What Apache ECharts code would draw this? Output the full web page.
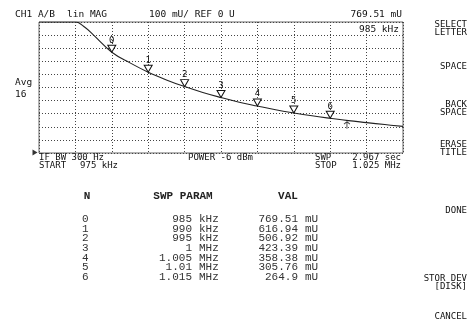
<!DOCTYPE html>
<html>
<head>
<meta charset="utf-8">
<script src="https://cdn.jsdelivr.net/npm/echarts@6/dist/echarts.min.js"></script>
<style>
  html, body { margin: 0; padding: 0; background: #fff; }
  #chart { width: 469px; height: 333px; }
</style>
</head>
<body>
<div id="chart"></div>
<script>
// sweep, kHz
const freqStart = 975
const freqStop = 1025
const freqDiv = 5
// 100 mU / div, ref 0 U at bottom
const valMin = 0
const valMax = 1000
const valDiv = 100

// trace (mU), clipped at the top of the graticule
const traceFreq = [975, 977.5, 980, 981.3, 982.5, 985, 987.5, 990, 992.5, 995, 997.5, 1000,
                   1002.5, 1005, 1007.5, 1010, 1012.5, 1015, 1017.5, 1020, 1022.5, 1025]
const traceVal = [1000, 1000, 1000, 960, 900, 769.51, 688, 616.94, 558, 506.92, 462, 423.39,
                  388, 358.38, 330, 305.76, 284, 264.9, 247, 232, 217, 203]

// marker table
const markerN = [0, 1, 2, 3, 4, 5, 6]
const markerFreq = [985, 990, 995, 1000, 1005, 1010, 1015]
const markerVal = [769.51, 616.94, 506.92, 423.39, 358.38, 305.76, 264.9]
// small arrow under the trace
const refArrow = [1017.3, 246]

const softkeys = [
    ['SELECT', 25], ['LETTER', 33], ['SPACE', 67], ['BACK', 105], ['SPACE', 112.5],
    ['ERASE', 145], ['TITLE', 152.5], ['DONE', 211], ['STOR DEV', 279], ['[DISK]', 286.5],
    ['CANCEL', 317]
]

const SCR = '"DejaVu Sans Mono", monospace'
const TAB = '"Liberation Mono", monospace'

function fmtFreq(f) {
    return f < 1000 ? [String(f), 'kHz'] : [String(f / 1000), 'MHz']
}

function txt(x, y, s, opt) {
    opt = opt || {}
    const align = opt.align || 'left'
    return {
        type: 'text', x: x, y: y, silent: true,
        style: {
            text: s,
            font: (opt.weight || 'normal') + ' ' + (opt.size || 9.5) + 'px ' + (opt.family || SCR),
            fill: opt.color || '#111',
            align: align, textAlign: align,
            verticalAlign: 'middle', textVerticalAlign: 'middle'
        }
    }
}

const texts = []
texts.push(txt(15, 15, 'CH1 A/B'))
texts.push(txt(67, 15, 'lin MAG'))
texts.push(txt(149, 15, '100 mU/ REF 0 U'))
texts.push(txt(402, 15, markerVal[0] + ' mU', { align: 'right' }))
texts.push(txt(399, 30, fmtFreq(markerFreq[0]).join(' '), { align: 'right' }))
texts.push(txt(15, 83, 'Avg'))
texts.push(txt(15, 95, '16'))
texts.push(txt(39, 158, 'IF BW 300 Hz', { size: 9 }))
texts.push(txt(39, 165.5, 'START', { size: 9 }))
texts.push(txt(118, 165.5, freqStart + ' kHz', { size: 9, align: 'right' }))
texts.push(txt(188, 158, 'POWER -6 dBm', { size: 9 }))
texts.push(txt(315, 158, 'SWP', { size: 9 }))
texts.push(txt(401, 158, '2.967 sec', { size: 9, align: 'right' }))
texts.push(txt(315, 165.5, 'STOP', { size: 9 }))
texts.push(txt(401, 165.5, (freqStop / 1000) + ' MHz', { size: 9, align: 'right' }))
softkeys.forEach(k => texts.push(txt(467, k[1], k[0], { size: 9, align: 'right' })))

// marker table
texts.push(txt(87, 196, 'N', { family: TAB, size: 11, weight: 'bold', color: '#222', align: 'center' }))
texts.push(txt(183, 196, 'SWP PARAM', { family: TAB, size: 11, weight: 'bold', color: '#222', align: 'center' }))
texts.push(txt(288, 196, 'VAL', { family: TAB, size: 11, weight: 'bold', color: '#222', align: 'center' }))
markerN.forEach((n, i) => {
    const y = 219 + i * 9.7
    const f = fmtFreq(markerFreq[i])
    texts.push(txt(82, y, String(n), { family: TAB, size: 11, color: '#333' }))
    texts.push(txt(192, y, f[0], { family: TAB, size: 11, color: '#333', align: 'right' }))
    texts.push(txt(199, y, f[1], { family: TAB, size: 11, color: '#333' }))
    texts.push(txt(298, y, String(markerVal[i]), { family: TAB, size: 11, color: '#333', align: 'right' }))
    texts.push(txt(305, y, 'mU', { family: TAB, size: 11, color: '#333' }))
})

const chart = echarts.init(document.getElementById('chart'), null, { renderer: 'canvas' })
chart.setOption({
    animation: false,
    backgroundColor: '#fff',
    grid: { left: 39, top: 22, width: 364, height: 131, show: true, borderColor: '#666', borderWidth: 1 },
    xAxis: {
        type: 'value', min: freqStart, max: freqStop, interval: freqDiv,
        axisLine: { show: false }, axisTick: { show: false }, axisLabel: { show: false },
        splitLine: { show: true, lineStyle: { color: '#444', width: 1, type: [1, 2] } }
    },
    yAxis: {
        type: 'value', min: valMin, max: valMax, interval: valDiv,
        axisLine: { show: false }, axisTick: { show: false }, axisLabel: { show: false },
        splitLine: { show: true, lineStyle: { color: '#444', width: 1, type: [1, 2] } }
    },
    series: [
        {
            type: 'line',
            data: traceFreq.map((f, i) => [f, traceVal[i]]),
            smooth: 0.4,
            showSymbol: false,
            lineStyle: { color: '#222', width: 1.1 },
            z: 3
        },
        {
            type: 'scatter',
            data: markerFreq.map((f, i) => [f, markerVal[i]]),
            symbol: 'path://M0,0 L10,0 L5,9 Z',
            symbolSize: [8, 7],
            symbolOffset: [0, -3.5],
            itemStyle: { color: '#fff', borderColor: '#111', borderWidth: 1, opacity: 1 },
            label: {
                show: true, position: 'top', distance: 0,
                formatter: p => String(markerN[p.dataIndex]),
                fontFamily: 'DejaVu Sans Mono', fontSize: 9, color: '#111'
            },
            z: 4
        },
        {
            type: 'scatter',
            data: [refArrow],
            symbol: 'path://M5,0 L1,4 M5,0 L9,4 M5,0 L5,12',
            symbolSize: [6, 7],
            symbolOffset: [0, 4.5],
            itemStyle: { color: 'transparent', borderColor: '#111', borderWidth: 1 },
            z: 4
        },
        {
            // reference position pointer, left of the graticule
            type: 'scatter',
            data: [[freqStart, valMin]],
            clip: false,
            symbol: 'path://M0,0 L6,4 L0,8 Z',
            symbolSize: [5, 6],
            symbolOffset: [-4, -0.5],
            itemStyle: { color: '#000' },
            z: 4
        }
    ],
    graphic: texts
})
</script>
</body>
</html>
